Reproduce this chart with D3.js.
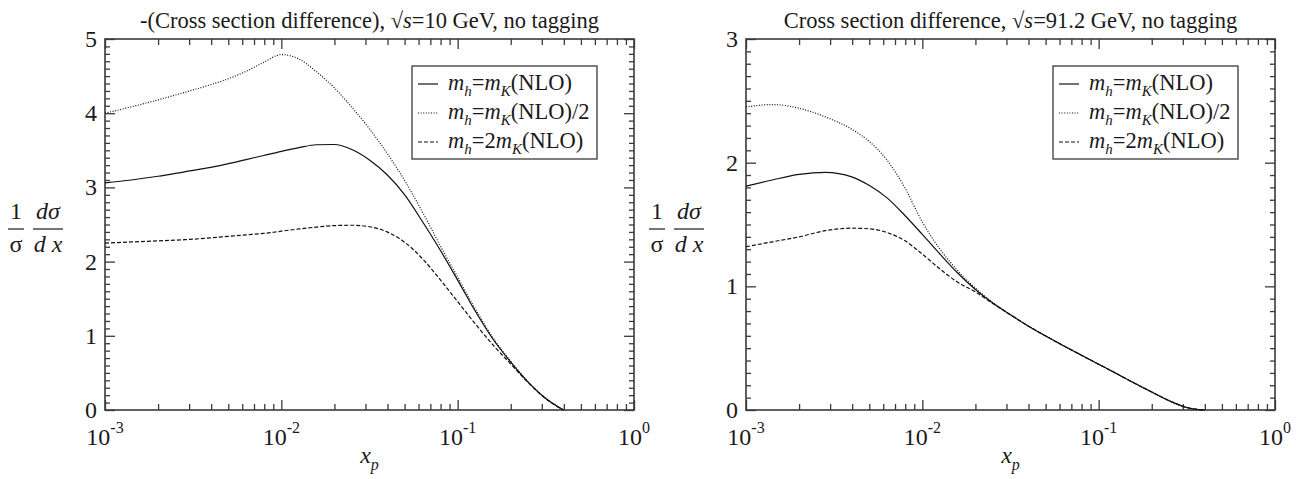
<!DOCTYPE html>
<html>
<head>
<meta charset="utf-8">
<script src="https://cdn.jsdelivr.net/npm/d3@7"></script>
<style>
  html, body { margin:0; padding:0; background:#fff; }
  svg { display:block; font-family:"Liberation Serif","Times New Roman",serif; }
</style>
</head>
<body>
<svg id="chart" width="1305" height="479"></svg>
<script>
// ---- data: x_p grid and 1/sigma dsigma/dx per curve ----
const xGrid = [1e-3, 1.41e-3, 2e-3, 2.82e-3, 3.98e-3, 5.01e-3, 6.31e-3, 7.94e-3, 1e-2, 1.26e-2, 1.58e-2, 2e-2, 2.51e-2,
               3.16e-2, 3.98e-2, 5.01e-2, 6.31e-2, 7.94e-2, 0.1, 0.126, 0.158, 0.2, 0.251, 0.316, 0.398];

// sqrt(s) = 10 GeV
const leftSolid  = [3.06, 3.10, 3.15, 3.21, 3.27, 3.32, 3.375, 3.43, 3.485, 3.535, 3.575, 3.578, 3.51,
                    3.37, 3.17, 2.90, 2.54, 2.16, 1.75, 1.33, 0.96, 0.645, 0.375, 0.155, 0];
const leftDotted = [4.00, 4.085, 4.18, 4.28, 4.385, 4.465, 4.565, 4.685, 4.79, 4.73, 4.56, 4.34, 4.08,
                    3.79, 3.46, 3.09, 2.67, 2.22, 1.79, 1.36, 0.98, 0.655, 0.38, 0.157, 0];
const leftDashed = [2.25, 2.265, 2.28, 2.295, 2.32, 2.34, 2.36, 2.38, 2.41, 2.44, 2.465, 2.485, 2.49,
                    2.47, 2.40, 2.26, 2.04, 1.76, 1.46, 1.16, 0.88, 0.62, 0.37, 0.152, 0];

// sqrt(s) = 91.2 GeV
const rightSolid  = [1.81, 1.86, 1.905, 1.922, 1.885, 1.815, 1.715, 1.575, 1.42, 1.26, 1.11, 0.975, 0.865,
                     0.77, 0.68, 0.598, 0.52, 0.445, 0.37, 0.295, 0.22, 0.145, 0.075, 0.02, 0];
const rightDotted = [2.45, 2.47, 2.44, 2.37, 2.27, 2.17, 2.02, 1.80, 1.52, 1.30, 1.13, 0.985, 0.868,
                     0.77, 0.68, 0.598, 0.52, 0.445, 0.37, 0.295, 0.22, 0.145, 0.075, 0.02, 0];
const rightDashed = [1.32, 1.36, 1.40, 1.45, 1.47, 1.465, 1.435, 1.37, 1.26, 1.14, 1.035, 0.955, 0.862,
                     0.77, 0.68, 0.598, 0.52, 0.445, 0.37, 0.295, 0.22, 0.145, 0.075, 0.02, 0];

const xDecades = [1e-3, 1e-2, 1e-1, 1];
const xDecadeExp = ['-3', '-2', '-1', '0'];
const leftYTicks = [0, 1, 2, 3, 4, 5];
const rightYTicks = [0, 1, 2, 3];
const legendPrefix = ['', '', '2'];
const legendSuffix = ['(NLO)', '(NLO)/2', '(NLO)'];
const styles = [null, '1,1.6', '4,2'];

const panels = [
  { left:105, title:['-(Cross section difference), \u221A', 's', '=10 GeV, no tagging'],
    yMax:5, yTicks:leftYTicks, series:[leftSolid, leftDotted, leftDashed] },
  { left:746, title:['Cross section difference, \u221A', 's', '=91.2 GeV, no tagging'],
    yMax:3, yTicks:rightYTicks, series:[rightSolid, rightDotted, rightDashed] }
];

const W = 529, H = 371, TOP = 39;
const FS = 24, FS_SMALL = 16;
const ink = '#1a1a1a', axisInk = '#3a3a3a';
const svg = d3.select('#chart');

panels.forEach(p => {
  const g = svg.append('g').attr('transform', `translate(${p.left},${TOP})`);
  const x = d3.scaleLog().domain([1e-3, 1]).range([0, W]);
  const y = d3.scaleLinear().domain([0, p.yMax]).range([H, 0]);

  // minor x ticks 2..9 per decade, minor y ticks every 0.1
  const xMinor = [];
  xDecades.slice(0, -1).forEach(d => d3.range(2, 10).forEach(k => xMinor.push(d * k)));
  const yMinor = d3.range(0, p.yMax * 10 + 1).map(i => i / 10).filter(v => !p.yTicks.includes(v));

  const tickAxis = (axisFn, scale, vals, size, transform) => {
    const a = g.append('g').attr('transform', transform || null)
      .call(axisFn(scale).tickValues(vals).tickSize(size).tickFormat(''));
    a.select('.domain').remove();
    a.selectAll('line').attr('stroke', axisInk).attr('stroke-width', 1.3);
  };
  tickAxis(d3.axisBottom, x, xDecades, -10, `translate(0,${H})`);
  tickAxis(d3.axisBottom, x, xMinor, -6, `translate(0,${H})`);
  tickAxis(d3.axisTop, x, xDecades, -10);
  tickAxis(d3.axisTop, x, xMinor, -6);
  tickAxis(d3.axisLeft, y, p.yTicks, -10);
  tickAxis(d3.axisLeft, y, yMinor, -5);
  tickAxis(d3.axisRight, y, p.yTicks, -10, `translate(${W},0)`);
  tickAxis(d3.axisRight, y, yMinor, -5, `translate(${W},0)`);

  g.append('rect').attr('width', W).attr('height', H)
    .attr('fill', 'none').attr('stroke', axisInk).attr('stroke-width', 1.6);

  // y tick labels
  g.selectAll('.ylab').data(p.yTicks).join('text')
    .attr('x', -8).attr('y', d => y(d) + 8)
    .attr('text-anchor', 'end').attr('font-size', FS).attr('fill', ink)
    .text(d => d);

  // x tick labels 10^n
  xDecades.forEach((d, i) => {
    const t = g.append('text').attr('x', x(d)).attr('y', H + 35)
      .attr('text-anchor', 'middle').attr('font-size', FS).attr('fill', ink);
    t.append('tspan').text('10');
    t.append('tspan').attr('dy', -12).attr('font-size', FS_SMALL).text(xDecadeExp[i]);
  });

  // x axis title
  const xl = g.append('text').attr('x', W / 2).attr('y', H + 53)
    .attr('text-anchor', 'middle').attr('font-size', FS).attr('fill', ink);
  xl.append('tspan').attr('font-style', 'italic').text('x');
  xl.append('tspan').attr('font-style', 'italic').attr('font-size', FS_SMALL).attr('dy', 7).text('p');

  // y axis title: 1/sigma dsigma/dx as two stacked fractions
  const fr = (cx, num, den, w, italic) => {
    g.append('line').attr('x1', cx - w / 2).attr('x2', cx + w / 2)
      .attr('y1', 190).attr('y2', 190).attr('stroke', ink).attr('stroke-width', 1.2);
    g.append('text').attr('x', cx).attr('y', 180).attr('text-anchor', 'middle')
      .attr('font-size', FS).attr('fill', ink).attr('font-style', italic ? 'italic' : null).text(num);
    g.append('text').attr('x', cx).attr('y', 213).attr('text-anchor', 'middle')
      .attr('font-size', FS).attr('fill', ink).attr('font-style', italic ? 'italic' : null).text(den);
  };
  fr(-89, '1', '\u03C3', 16, false);
  fr(-57, 'd\u03C3', 'd x', 30, true);

  // title
  const tt = g.append('text').attr('x', W / 2).attr('y', -11)
    .attr('text-anchor', 'middle').attr('font-size', 22.5).attr('fill', ink);
  tt.append('tspan').text(p.title[0]);
  tt.append('tspan').attr('font-style', 'italic').text(p.title[1]);
  tt.append('tspan').text(p.title[2]);

  // curves
  const line = d3.line().x((d, i) => x(xGrid[i])).y(d => y(d)).curve(d3.curveMonotoneX);
  p.series.forEach((s, i) => {
    g.append('path').datum(s).attr('d', line)
      .attr('fill', 'none').attr('stroke', '#111').attr('stroke-width', 1.2)
      .attr('stroke-dasharray', styles[i]);
  });

  // legend
  const lg = g.append('g').attr('transform', `translate(${W - 222},27)`);
  lg.append('rect').attr('width', 185).attr('height', 93)
    .attr('fill', '#fff').attr('stroke', axisInk).attr('stroke-width', 1.3);
  legendSuffix.forEach((suf, i) => {
    const yy = 18 + i * 29;
    lg.append('line').attr('x1', 6).attr('x2', 26).attr('y1', yy).attr('y2', yy)
      .attr('stroke', '#111').attr('stroke-width', 1.2).attr('stroke-dasharray', styles[i]);
    const t = lg.append('text').attr('x', 36).attr('y', yy + 6).attr('font-size', 22.5).attr('fill', ink);
    t.append('tspan').attr('font-style', 'italic').text('m');
    t.append('tspan').attr('font-style', 'italic').attr('font-size', 15).attr('dy', 6).text('h');
    t.append('tspan').attr('dy', -6).text('=' + legendPrefix[i]);
    t.append('tspan').attr('font-style', 'italic').text('m');
    t.append('tspan').attr('font-style', 'italic').attr('font-size', 15).attr('dy', 6).text('K');
    t.append('tspan').attr('dy', -6).text(suf);
  });
});
</script>
</body>
</html>
